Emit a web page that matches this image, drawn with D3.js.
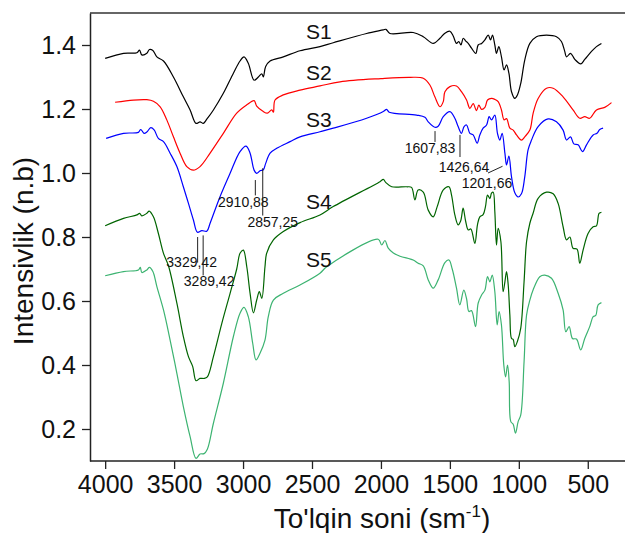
<!DOCTYPE html>
<html>
<head>
<meta charset="utf-8">
<script src="https://cdn.jsdelivr.net/npm/d3@7"></script>
<style>
  html, body { margin: 0; padding: 0; background: #fff; }
  svg { display: block; font-family: "Liberation Sans", Arial, sans-serif; }
</style>
</head>
<body>
<svg id="chart" width="625" height="533"></svg>
<script>
// FTIR spectra, wavenumber (sm^-1) vs. intensity
const s1Wave = [4000,3867,3770,3751,3734,3698,3679,3654,3625,3577,3505,3433,3384,3341,3312,3288,3263,3215,3143,3070,3022,2993,2962,2920,2889,2864,2853,2836,2804,2708,2587,2442,2346,2104,1983,1964,1935,1766,1693,1621,1572,1536,1500,1476,1452,1435,1420,1403,1386,1367,1343,1312,1295,1270,1246,1222,1205,1191,1174,1162,1145,1126,1107,1089,1072,1053,1029,1010,986,957,920,872,799,727,691,667,654,625,594,551,522,473,437,401];
const s1Vals = [1.358,1.374,1.376,1.384,1.369,1.374,1.386,1.383,1.363,1.350,1.300,1.238,1.197,1.155,1.160,1.155,1.168,1.197,1.249,1.312,1.350,1.363,1.343,1.290,1.300,1.310,1.300,1.333,1.350,1.363,1.382,1.395,1.407,1.436,1.447,1.449,1.436,1.439,1.426,1.405,1.421,1.437,1.443,1.428,1.405,1.411,1.400,1.421,1.413,1.405,1.390,1.374,1.400,1.405,1.416,1.431,1.416,1.431,1.400,1.374,1.395,1.363,1.322,1.338,1.312,1.254,1.233,1.244,1.280,1.353,1.405,1.426,1.431,1.426,1.411,1.380,1.363,1.374,1.355,1.341,1.355,1.380,1.395,1.405];

const s2Wave = [3928,3795,3698,3650,3601,3553,3505,3457,3408,3360,3312,3239,3143,3046,2973,2920,2901,2853,2824,2792,2780,2768,2708,2587,2442,2297,2000,1790,1693,1645,1609,1572,1548,1536,1500,1452,1416,1379,1355,1331,1307,1290,1270,1246,1227,1198,1174,1150,1126,1107,1089,1065,1041,1017,981,957,920,896,860,799,751,679,607,558,522,486,437,377,328];
const s2Vals = [1.221,1.228,1.229,1.224,1.207,1.166,1.113,1.062,1.020,1.009,1.020,1.062,1.124,1.187,1.213,1.226,1.209,1.192,1.187,1.197,1.190,1.228,1.244,1.259,1.272,1.285,1.295,1.299,1.296,1.275,1.238,1.207,1.223,1.254,1.270,1.272,1.254,1.228,1.202,1.217,1.195,1.212,1.199,1.205,1.228,1.233,1.230,1.223,1.197,1.166,1.170,1.140,1.134,1.119,1.103,1.113,1.134,1.187,1.233,1.265,1.265,1.238,1.197,1.171,1.176,1.171,1.197,1.205,1.220];

const s3Wave = [3993,3867,3759,3742,3718,3698,3669,3645,3614,3577,3529,3480,3433,3396,3360,3331,3299,3263,3239,3167,3094,3022,2978,2949,2920,2901,2877,2853,2836,2804,2756,2659,2587,2442,2346,2104,1983,1959,1940,1742,1681,1657,1609,1585,1548,1500,1464,1440,1416,1397,1379,1355,1331,1302,1283,1259,1234,1215,1198,1174,1155,1138,1121,1101,1089,1072,1053,1029,1005,981,957,933,908,860,788,727,679,654,625,601,570,538,509,461,433,413,389];
const s3Vals = [1.108,1.124,1.127,1.136,1.124,1.128,1.142,1.135,1.108,1.098,1.062,1.020,0.957,0.905,0.853,0.815,0.820,0.818,0.843,0.926,0.999,1.067,1.084,1.062,1.009,0.999,1.007,1.010,1.030,1.062,1.077,1.098,1.113,1.129,1.140,1.171,1.192,1.199,1.190,1.181,1.174,1.160,1.143,1.146,1.176,1.192,1.171,1.145,1.124,1.145,1.150,1.124,1.119,1.093,1.119,1.140,1.150,1.176,1.166,1.181,1.124,1.103,1.124,1.062,1.025,1.053,0.988,0.938,0.925,0.935,0.988,1.072,1.103,1.145,1.169,1.160,1.134,1.103,1.113,1.091,1.088,1.067,1.088,1.119,1.124,1.136,1.140];

const s4Wave = [4000,3867,3770,3750,3734,3698,3681,3650,3614,3577,3541,3480,3433,3396,3365,3341,3312,3283,3259,3215,3154,3094,3046,3022,2998,2973,2949,2925,2901,2882,2864,2841,2829,2780,2708,2587,2442,2346,2007,1983,1964,1922,1814,1778,1754,1730,1693,1657,1621,1592,1548,1507,1488,1464,1440,1422,1404,1386,1367,1348,1319,1300,1283,1259,1242,1227,1210,1198,1186,1174,1162,1150,1130,1114,1101,1089,1077,1065,1053,1041,1029,1010,986,962,944,920,896,860,799,751,715,679,654,630,607,578,558,534,498,461,437,418,401];
const s4Vals = [0.835,0.858,0.869,0.874,0.866,0.874,0.881,0.863,0.811,0.749,0.710,0.593,0.489,0.426,0.395,0.351,0.358,0.358,0.363,0.426,0.530,0.624,0.700,0.749,0.759,0.707,0.624,0.563,0.603,0.629,0.608,0.707,0.749,0.791,0.817,0.845,0.869,0.895,0.973,0.980,0.970,0.957,0.957,0.955,0.916,0.947,0.940,0.884,0.863,0.895,0.947,0.957,0.931,0.869,0.838,0.850,0.890,0.850,0.822,0.825,0.780,0.838,0.863,0.870,0.895,0.931,0.920,0.937,0.940,0.879,0.775,0.827,0.785,0.629,0.660,0.692,0.650,0.556,0.483,0.480,0.457,0.474,0.515,0.660,0.785,0.843,0.875,0.921,0.940,0.935,0.905,0.832,0.791,0.800,0.765,0.762,0.718,0.759,0.811,0.832,0.835,0.874,0.877];

const s5Wave = [4000,3867,3759,3745,3734,3698,3679,3654,3625,3577,3529,3480,3433,3384,3341,3312,3283,3259,3215,3143,3070,3022,2993,2962,2930,2906,2877,2841,2817,2780,2708,2587,2442,2393,2020,1995,1971,1947,1910,1862,1766,1730,1693,1657,1621,1585,1536,1507,1483,1452,1428,1399,1379,1362,1343,1314,1295,1270,1246,1227,1210,1193,1174,1157,1143,1126,1109,1096,1082,1070,1058,1041,1024,1005,986,962,944,920,896,848,812,763,715,679,659,635,611,582,551,522,486,461,442,425,401];
const s5Vals = [0.679,0.692,0.697,0.705,0.689,0.697,0.705,0.692,0.645,0.572,0.478,0.374,0.270,0.176,0.108,0.122,0.123,0.137,0.218,0.343,0.489,0.562,0.580,0.551,0.468,0.416,0.437,0.478,0.551,0.603,0.624,0.650,0.687,0.707,0.793,0.775,0.789,0.765,0.750,0.740,0.728,0.718,0.710,0.666,0.640,0.666,0.720,0.728,0.700,0.640,0.588,0.634,0.607,0.567,0.570,0.520,0.593,0.619,0.634,0.676,0.660,0.681,0.629,0.525,0.567,0.525,0.400,0.363,0.400,0.348,0.223,0.215,0.187,0.223,0.244,0.410,0.556,0.603,0.635,0.676,0.681,0.671,0.624,0.572,0.504,0.520,0.483,0.481,0.447,0.483,0.520,0.551,0.555,0.588,0.595];

const seriesNames = ["S1", "S2", "S3", "S4", "S5"];
const seriesColors = ["#000000", "#ff0000", "#0000ff", "#006400", "#3cb371"];

const xTicks = [4000, 3500, 3000, 2500, 2000, 1500, 1000, 500];
const yTicks = [0.2, 0.4, 0.6, 0.8, 1.0, 1.2, 1.4];

// peak assignments marked on the spectra
const peakLabels = ["3329,42", "3289,42", "2910,88", "2857,25", "1607,83", "1426,64", "1201,66"];
const peakWaves = [3329.42, 3289.42, 2910.88, 2857.25, 1607.83, 1426.64, 1201.66];

const svg = d3.select("#chart");
const W = 625, H = 533;
const m = { left: 90, right: 0, top: 13, bottom: 72 };

const x = d3.scaleLinear().domain([4110, 230]).range([m.left, W - m.right]);
const y = d3.scaleLinear().domain([0.1, 1.5]).range([H - m.bottom, m.top]);

// frame: top border line
svg.append("line")
  .attr("x1", m.left).attr("x2", W + 2)
  .attr("y1", y(1.5)).attr("y2", y(1.5))
  .attr("stroke", "#333").attr("stroke-width", 1.3);

// minor ticks
const xMinor = d3.range(250, 4001, 250).filter(v => v % 500 !== 0);
const yMinor = d3.range(0.3, 1.51, 0.2).map(v => +v.toFixed(1));

const gx = svg.append("g").attr("transform", `translate(0,${y(0.1)})`);
gx.call(d3.axisBottom(x).tickValues(xMinor).tickSize(4).tickSizeOuter(0).tickFormat(""));
gx.call(d3.axisBottom(x).tickValues(xTicks).tickSize(8).tickSizeOuter(0).tickPadding(6).tickFormat(d3.format("d")));
gx.select(".domain").attr("d", `M${m.left},0H${W + 2}`);

const gy = svg.append("g").attr("transform", `translate(${m.left},0)`);
gy.call(d3.axisLeft(y).tickValues(yMinor).tickSize(4).tickSizeOuter(0).tickFormat(""));
gy.call(d3.axisLeft(y).tickValues(yTicks).tickSize(8).tickSizeOuter(0).tickPadding(6).tickFormat(d3.format(".1f")));

svg.selectAll(".domain").attr("stroke", "#222").attr("stroke-width", 1.5);
svg.selectAll(".tick line").attr("stroke", "#222").attr("stroke-width", 1.3);
svg.selectAll(".tick text").attr("font-size", 25).attr("fill", "#111")
  .attr("font-family", "'Liberation Sans', Arial, sans-serif");

// axis titles
svg.append("text")
  .attr("transform", `translate(33,251) rotate(-90)`)
  .attr("text-anchor", "middle")
  .attr("font-size", 28).attr("fill", "#111")
  .text("Intensivlik (n.b)");

const xt = svg.append("text")
  .attr("x", 382).attr("y", 528)
  .attr("text-anchor", "middle")
  .attr("font-size", 28).attr("fill", "#111");
xt.append("tspan").text("To'lqin soni (sm");
xt.append("tspan").attr("font-size", 17).attr("dy", -11).text("-1");
xt.append("tspan").attr("dy", 11).text(")");

// spectra
const waves = [s1Wave, s2Wave, s3Wave, s4Wave, s5Wave];
const vals = [s1Vals, s2Vals, s3Vals, s4Vals, s5Vals];
const line = d3.line()
  .x(d => x(d[0])).y(d => y(d[1]))
  .curve(d3.curveCatmullRom.alpha(0.5));

waves.forEach((w, i) => {
  const pts = w.map((v, k) => [v, vals[i][k]]);
  svg.append("path")
    .datum(pts)
    .attr("d", line)
    .attr("fill", "none")
    .attr("stroke", seriesColors[i])
    .attr("stroke-width", 1.2)
    .attr("stroke-linejoin", "round");
});

// series names
const nameLevels = [1.42, 1.29, 1.145, 0.889, 0.705];
seriesNames.forEach((n, i) => {
  svg.append("text")
    .attr("x", 306).attr("y", y(nameLevels[i]))
    .attr("font-size", 21).attr("fill", "#111")
    .text(n);
});

// peak annotations: leader line (value range) and label offset from the leader
const leaders = [
  { y0: 0.80, y1: 0.72, tx: -6, ty: 0.707 },
  { y0: 0.805, y1: 0.68, tx: 6, ty: 0.647 },
  { y0: 0.978, y1: 0.93, tx: -12, ty: 0.895 },
  { y0: 1.015, y1: 0.867, tx: 10, ty: 0.832 },
  { y0: 1.131, y1: 1.097, tx: -5, ty: 1.062 },
  { y0: 1.119, y1: 1.05, tx: 4, ty: 1.004 },
  { y0: 0, y1: 0, tx: -4, ty: 0.953 }
];
const ann = svg.append("g").attr("font-size", 14).attr("fill", "#111");
peakWaves.forEach((w, i) => {
  const L = leaders[i];
  const lx = x(w);
  if (i < 6) {
    ann.append("line")
      .attr("x1", lx).attr("x2", lx)
      .attr("y1", y(L.y0)).attr("y2", y(L.y1))
      .attr("stroke", "#222").attr("stroke-width", 1);
  } else {
    ann.append("line")
      .attr("x1", lx - 3).attr("y1", y(1.0))
      .attr("x2", lx + 11.5).attr("y2", y(1.021))
      .attr("stroke", "#222").attr("stroke-width", 1);
  }
  ann.append("text")
    .attr("x", lx + L.tx).attr("y", y(L.ty))
    .attr("text-anchor", "middle")
    .text(peakLabels[i]);
});
</script>
</body>
</html>
